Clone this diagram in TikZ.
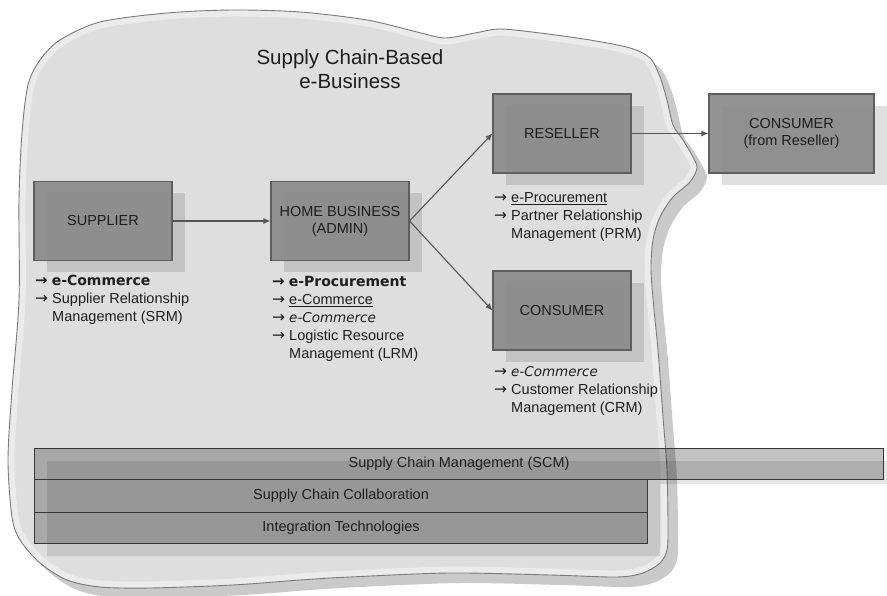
\documentclass[tikz,border=0pt]{standalone}
\usepackage{fontspec}
\setmainfont{Liberation Sans}
\newfontfamily\dvfont{DejaVu Sans}
\usetikzlibrary{arrows.meta,shadows}

\definecolor{cloudfill}{HTML}{DEDEDE}
\definecolor{cloudband}{HTML}{EBEBEB}
\definecolor{cloudline}{HTML}{7A7A7A}
\definecolor{cloudshade}{HTML}{CACACA}
\definecolor{boxfill}{HTML}{8A8A8A}
\definecolor{boxline}{HTML}{5E5E5E}
\definecolor{wire}{HTML}{555555}
\definecolor{barline}{HTML}{363636}
\definecolor{ink}{HTML}{1E1E1E}

% outline of the e-business region
\newcommand\cloudpath{plot[smooth cycle, tension=0.5] coordinates {
 (19,300) (19,200) (22,133) (28,85) (40,60) (60,40) (100,22) (167,13)
 (233,10) (300,12) (367,20) (417,32) (445,38) (475,33) (500,29) (540,33)
 (590,40) (630,48) (650,58) (660,77) (667,100) (673,125) (683,140)
 (693,157) (697,168) (690,182) (673,197) (660,217) (653,240) (651,270)
 (654,310) (658,350) (663,417) (667,470) (668,527) (667,550) (660,563)
 (643,573) (617,577) (550,575) (450,573) (350,577) (300,580) (233,585)
 (150,588) (100,587) (67,580) (40,563) (20,540) (12,517) (8,460) (12,390)}}

\newcommand\arr{{\dvfont\fontsize{15.5}{17.8}\selectfont →}\ }
\newcommand\barr{{\dvfont\bfseries\fontsize{15}{17.8}\selectfont →}\ }

\tikzset{
  unitbox/.style={draw=boxline, fill=boxfill, fill opacity=.92, text opacity=1,
    line width=1.1pt, minimum width=138pt, minimum height=79pt, text=ink,
    align=center, font=\fontsize{14.5}{17}\selectfont,
    drop shadow={shadow xshift=13pt, shadow yshift=-12pt, fill=black, opacity=.12}},
  wirearrow/.style={draw=wire, line width=1.1pt, -{Latex[length=7pt,width=6pt]}},
  listtext/.style={anchor=base west, inner sep=0pt, text=ink,
    font=\fontsize{14.5}{17.8}\selectfont},
  layerbar/.style={draw=barline, fill=black, fill opacity=.24, text opacity=1,
    line width=1.1pt, anchor=north west, inner sep=0pt, text=ink,
    font=\fontsize{14.5}{17}\selectfont},
}

\begin{document}
\begin{tikzpicture}[x=1pt, y=-1pt]
\useasboundingbox (0,0) rectangle (887,596);
\fill[white] (0,0) rectangle (887,596);

% region with its shadow, light rim and outline
\fill[cloudshade, shift={(10,10)}] \cloudpath;
\fill[cloudfill] \cloudpath;
\begin{scope}
  \clip \cloudpath;
  \draw[cloudband, line width=13pt] \cloudpath;
\end{scope}
\draw[cloudline, line width=0.9pt] \cloudpath;

\node[text=ink, align=center, font=\fontsize{20.5}{24}\selectfont] (title) at (350,69)
  {Supply Chain-Based\\e-Business};

% participants
\node[unitbox] (sup)  at (103,221)   {SUPPLIER};
\node[unitbox] (home) at (340,221)   {HOME BUSINESS\\(ADMIN)};
\node[unitbox] (res)  at (562,133.5) {RESELLER};
\node[unitbox] (con)  at (562,310.5) {CONSUMER};
\node[unitbox, minimum width=165pt] (conr) at (791.5,133.5) {CONSUMER\\(from Reseller)};

% flows
\draw[wirearrow] (sup.east) -- (home.west);
\draw[wirearrow] (home.east) -- (res.west);
\draw[wirearrow] (home.east) -- (con.west);
\draw[wirearrow] (res.east) -- (conr.west);

% functions of each participant
\node[listtext] (suplist) at (35,286) {\begin{tabular}[t]{@{}l@{}}
  \barr{\dvfont\bfseries\fontsize{14}{17.8}\selectfont e-Commerce}\\
  \arr Supplier Relationship\\
  \phantom{\arr}Management (SRM)\end{tabular}};

\node[listtext] (homelist) at (272,287) {\begin{tabular}[t]{@{}l@{}}
  \barr{\dvfont\bfseries\fontsize{14}{17.8}\selectfont e-Procurement}\\
  \arr\underline{e-Commerce}\\
  \arr{\dvfont\itshape\fontsize{13.5}{17.8}\selectfont e-Commerce}\\
  \arr Logistic Resource\\
  \phantom{\arr}Management (LRM)\end{tabular}};

\node[listtext] (reslist) at (494,203) {\begin{tabular}[t]{@{}l@{}}
  \arr\underline{e-Procurement}\\
  \arr Partner Relationship\\
  \phantom{\arr}Management (PRM)\end{tabular}};

\node[listtext] (conlist) at (494,377) {\begin{tabular}[t]{@{}l@{}}
  \arr{\dvfont\itshape\fontsize{13.5}{17.8}\selectfont e-Commerce}\\
  \arr Customer Relationship\\
  \phantom{\arr}Management (CRM)\end{tabular}};

% supporting layers
\fill[black, opacity=.1] (47,461) -- (887,461) -- (887,484) -- (660,484)
  -- (660,556) -- (47,556) -- cycle;
\node[layerbar, minimum width=849pt, minimum height=31pt] (scm) at (34,448)
  {Supply Chain Management (SCM)};
\node[layerbar, minimum width=613pt, minimum height=33pt] (collab) at (34,479)
  {Supply Chain Collaboration};
\node[layerbar, minimum width=613pt, minimum height=31pt] (integ) at (34,512)
  {Integration Technologies};
\end{tikzpicture}
\end{document}
